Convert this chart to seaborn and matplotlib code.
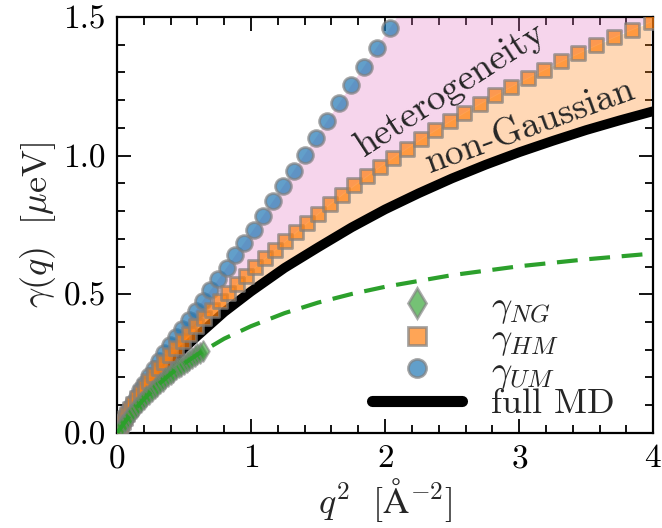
"""Relaxation rate gamma(q) vs q^2: full MD against the three model curves."""

import matplotlib

matplotlib.use("Agg")
import matplotlib.pyplot as plt
import numpy as np
import pandas as pd
import seaborn as sns
from matplotlib.lines import Line2D
from matplotlib.ticker import MultipleLocator

# --- data ------------------------------------------------------------------
# gamma_HM (orange squares)
Q2_HM = [0.0012, 0.0049, 0.0110, 0.0196, 0.0306, 0.0441, 0.0600, 0.0784, 0.0992, 0.1225,
         0.1482, 0.1764, 0.2070, 0.2401, 0.2756, 0.3136, 0.3540, 0.3969, 0.4422, 0.4900,
         0.5402, 0.5929, 0.6480, 0.7056, 0.7656, 0.8281, 0.8930, 0.9604, 1.0302, 1.1025,
         1.1772, 1.2544, 1.3340, 1.4161, 1.5006, 1.5876, 1.6770, 1.7689, 1.8632, 1.9600,
         2.0592, 2.1609, 2.2650, 2.3716, 2.4806, 2.5921, 2.7060, 2.8224, 2.9412, 3.0625,
         3.1862, 3.3124, 3.4410, 3.5721, 3.7056, 3.8416, 3.9800]
G_HM = [0.0011, 0.0045, 0.0101, 0.0180, 0.0278, 0.0398, 0.0536, 0.0692, 0.0863, 0.1047,
        0.1243, 0.1448, 0.1658, 0.1878, 0.2106, 0.2333, 0.2567, 0.2806, 0.3051, 0.3303,
        0.3571, 0.3854, 0.4147, 0.4445, 0.4754, 0.5060, 0.5376, 0.5666, 0.5975, 0.6295,
        0.6592, 0.6912, 0.7234, 0.7572, 0.7910, 0.8248, 0.8586, 0.8923, 0.9258, 0.9593,
        0.9925, 1.0255, 1.0583, 1.0909, 1.1231, 1.1551, 1.1867, 1.2179, 1.2489, 1.2794,
        1.3096, 1.3394, 1.3687, 1.3977, 1.4263, 1.4545, 1.4822]

# gamma_UM (blue circles)
Q2_UM = [0.0012, 0.0048, 0.0109, 0.0194, 0.0303, 0.0436, 0.0593, 0.0775, 0.0981, 0.1211,
         0.1465, 0.1744, 0.2047, 0.2374, 0.2725, 0.3100, 0.3500, 0.3924, 0.4372, 0.4844,
         0.5341, 0.5861, 0.6406, 0.6976, 0.7569, 0.8187, 0.8828, 0.9495, 1.0185, 1.0899,
         1.1638, 1.2401, 1.3188, 1.4000, 1.4835, 1.5695, 1.6579, 1.7487, 1.8420, 1.9377,
         2.0358]
G_UM = [0.0011, 0.0045, 0.0101, 0.0180, 0.0280, 0.0402, 0.0545, 0.0710, 0.0884, 0.1083,
        0.1298, 0.1531, 0.1779, 0.2039, 0.2311, 0.2595, 0.2877, 0.3163, 0.3463, 0.3759,
        0.4081, 0.4407, 0.4766, 0.5141, 0.5541, 0.5960, 0.6400, 0.6855, 0.7333, 0.7836,
        0.8356, 0.8892, 0.9456, 1.0038, 1.0637, 1.1253, 1.1887, 1.2538, 1.3207, 1.3893,
        1.4597]

# gamma_NG (green diamonds, only at small q)
Q2_NG = [0.02, 0.04, 0.06, 0.08, 0.10, 0.12, 0.14, 0.16, 0.18, 0.20, 0.22, 0.24, 0.26,
         0.28, 0.30, 0.32, 0.34, 0.36, 0.38, 0.40, 0.42, 0.44, 0.46, 0.48, 0.50, 0.52,
         0.54, 0.56, 0.58, 0.60, 0.62, 0.64]
G_NG = [0.014, 0.028, 0.041, 0.054, 0.066, 0.078, 0.089, 0.101, 0.112, 0.122, 0.132,
        0.142, 0.152, 0.161, 0.171, 0.180, 0.188, 0.197, 0.205, 0.213, 0.221, 0.229,
        0.236, 0.243, 0.250, 0.257, 0.264, 0.271, 0.277, 0.283, 0.290, 0.296]

# full MD (thick black line)
Q2_MD = [0.0, 0.05, 0.1, 0.2, 0.3, 0.4, 0.5, 0.6, 0.8, 1.0, 1.25, 1.5, 1.75, 2.0, 2.25,
         2.5, 2.75, 3.0, 3.25, 3.5, 3.75, 4.0]
G_MD = [0.0, 0.042, 0.079, 0.144, 0.202, 0.254, 0.305, 0.350, 0.436, 0.510, 0.595, 0.669,
        0.741, 0.806, 0.864, 0.918, 0.967, 1.012, 1.053, 1.092, 1.127, 1.160]

# Gaussian approximation (green dashed)
Q2_GAUSS = [0.0, 0.1, 0.2, 0.3, 0.4, 0.5, 0.6, 0.8, 1.0, 1.25, 1.5, 1.75, 2.0, 2.5, 3.0,
            3.5, 4.0]
G_GAUSS = [0.0, 0.066, 0.122, 0.171, 0.213, 0.250, 0.283, 0.340, 0.385, 0.432, 0.470,
           0.501, 0.527, 0.569, 0.601, 0.626, 0.647]

LEGEND_LABELS = [r"$\gamma_{NG}$", r"$\gamma_{HM}$", r"$\gamma_{UM}$", "full MD"]

BLUE = "#1f77b4"
ORANGE = "#ff7f0e"
GREEN = "#2ca02c"
PINK = "#e377c2"


def main() -> None:
    sns.set_theme(style="ticks")
    plt.rcParams.update(
        {
            "font.family": "serif",
            "font.serif": ["cmr10", "DejaVu Serif"],
            "mathtext.fontset": "cm",
            "axes.formatter.use_mathtext": True,
            "axes.linewidth": 1.6,
            "axes.edgecolor": "black",
            "xtick.color": "black",
            "ytick.color": "black",
        }
    )

    hm = pd.DataFrame({"q2": Q2_HM, "g": G_HM})
    um = pd.DataFrame({"q2": Q2_UM, "g": G_UM})
    ng = pd.DataFrame({"q2": Q2_NG, "g": G_NG})
    md = pd.DataFrame({"q2": Q2_MD, "g": G_MD})
    gauss = pd.DataFrame({"q2": Q2_GAUSS, "g": G_GAUSS})

    fig = plt.figure(figsize=(6.62, 5.28), dpi=100)
    ax = fig.add_axes([0.1767, 0.18, 0.81, 0.788])

    # shaded bands: MD -> HM is "non-Gaussian", HM -> UM is "heterogeneity"
    x = hm["q2"].to_numpy()
    md_on_x = np.interp(x, md["q2"], md["g"])
    slope_um = um["g"].iloc[-1] / um["q2"].iloc[-1]
    um_on_x = np.where(x <= um["q2"].iloc[-1], np.interp(x, um["q2"], um["g"]), slope_um * x)
    ax.fill_between(x, md_on_x, hm["g"], color=ORANGE, alpha=0.3, lw=0, zorder=1)
    ax.fill_between(x, hm["g"], um_on_x, color=PINK, alpha=0.3, lw=0, zorder=1)

    sns.lineplot(data=md, x="q2", y="g", color="black", lw=7, ax=ax, zorder=2,
                 estimator=None, sort=False)
    sns.scatterplot(data=um, x="q2", y="g", marker="o", s=130, color=BLUE,
                    edgecolor="gray", linewidth=2, alpha=0.7, ax=ax, zorder=3)
    sns.scatterplot(data=hm, x="q2", y="g", marker="s", s=105, color=ORANGE,
                    edgecolor="gray", linewidth=2, alpha=0.7, ax=ax, zorder=4)
    sns.scatterplot(data=ng, x="q2", y="g", marker="d", s=110, color=GREEN,
                    edgecolor="gray", linewidth=1.5, alpha=0.6, ax=ax, zorder=5)
    sns.lineplot(data=gauss, x="q2", y="g", color=GREEN, lw=3, ax=ax, zorder=6,
                 estimator=None, sort=False)
    ax.lines[-1].set_dashes([5, 2.8])

    ax.text(2.49, 1.24, "heterogeneity", rotation=33, fontsize=27,
            ha="center", va="center", rotation_mode="anchor", zorder=7)
    ax.text(3.08, 1.105, "non-Gaussian", rotation=20, fontsize=27,
            ha="center", va="center", rotation_mode="anchor", zorder=7)

    handles = [
        Line2D([], [], ls="none", marker="d", ms=15, mfc=GREEN, mec="gray", mew=2, alpha=0.65),
        Line2D([], [], ls="none", marker="s", ms=13, mfc=ORANGE, mec="gray", mew=2, alpha=0.7),
        Line2D([], [], ls="none", marker="o", ms=13, mfc=BLUE, mec="gray", mew=2, alpha=0.7),
        Line2D([], [], color="black", lw=8),
    ]
    ax.legend(handles, LEGEND_LABELS, loc="lower right", bbox_to_anchor=(0.975, -0.03),
              frameon=False, fontsize=26, handlelength=2.5, handletextpad=0.8,
              labelspacing=-0.08, borderaxespad=0.3)

    ax.set_xlim(0, 4)
    ax.set_ylim(0, 1.5)
    ax.set_xticks([0, 1, 2, 3, 4])
    ax.set_yticks([0.0, 0.5, 1.0, 1.5])
    ax.set_yticklabels(["0.0", "0.5", "1.0", "1.5"])
    ax.xaxis.set_minor_locator(MultipleLocator(0.2))
    ax.yaxis.set_minor_locator(MultipleLocator(0.1))
    ax.tick_params(which="both", direction="in", top=True, right=True, labelsize=24,
                   width=1.3, color="black")
    ax.tick_params(which="major", length=10, pad=8)
    ax.tick_params(which="minor", length=6)
    ax.set_xlabel(r"$q^2\ \ [\mathrm{\AA}^{-2}]$", fontsize=26, labelpad=2)
    ax.set_ylabel(r"$\gamma(q)\ \ [\mu\mathrm{eV}]$", fontsize=26, labelpad=4)

    fig.savefig("out.png", dpi=100)
    plt.close(fig)


if __name__ == "__main__":
    main()
